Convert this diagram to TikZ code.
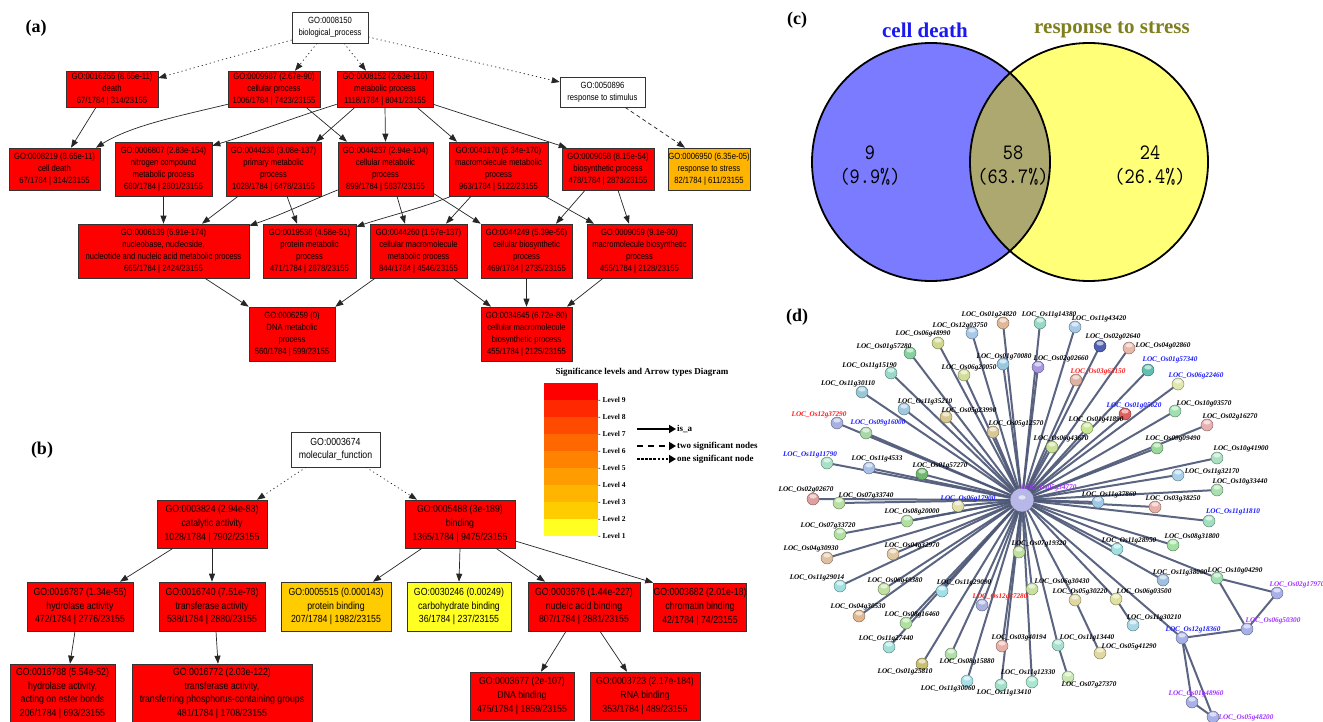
\documentclass[tikz,border=0pt]{standalone}
\usepackage{fontspec}
\setmainfont{Liberation Serif}
\newfontfamily\gofont[FakeStretch=0.85]{Liberation Sans}
\newfontfamily\vnumfont[FakeStretch=0.88]{lmmono10-regular.otf}
\usetikzlibrary{arrows.meta}
\pgfdeclarelayer{bg}
\pgfsetlayers{bg,main}
\definecolor{lv9}{HTML}{FF0000}
\definecolor{lv8}{HTML}{FF2800}
\definecolor{lv7}{HTML}{FF4A00}
\definecolor{lv6}{HTML}{FF6800}
\definecolor{lv5}{HTML}{FF8200}
\definecolor{lv4}{HTML}{FF9C00}
\definecolor{lv3}{HTML}{FFB400}
\definecolor{lv2}{HTML}{FFCC00}
\definecolor{lv1}{HTML}{FFFF22}
\definecolor{edgec}{HTML}{4E5878}
\definecolor{vblue}{HTML}{7B7BFF}
\definecolor{vyel}{HTML}{FFFF78}
\definecolor{volive}{HTML}{ADA86F}
\definecolor{lred}{HTML}{FF1A1A}
\definecolor{lblue}{HTML}{1A1AFF}
\definecolor{lpur}{HTML}{A030FF}
\definecolor{vtblue}{HTML}{1A1AF0}
\definecolor{vtolive}{HTML}{7F7F1F}
\newcommand\gobx[7]{\node[gobox,#2,minimum width={(#5-#3)*1pt},minimum height={(#6-#4)*1pt}] (#1) at ({(#3+#5)/2},{(#4+#6)/2}) {#7};}
\newcommand\gnd[8]{\definecolor{c#1}{HTML}{#4}\node[gball,fill=c#1,draw=c#1!55!black] (#1) at (#2,#3) {};\node[glab,text=#7] (#1l) at (#5,#6) {LOC\_Os#8};}
\tikzset{
  gobox/.style={draw=black!80, line width=0.6pt, font=\gofont\fontsize{9}{11.8}\selectfont, align=center, inner sep=0pt, text=black},
  gobb/.style={font=\gofont\fontsize{10.3}{13.7}\selectfont},
  isa/.style={-{Triangle[length=8pt,width=6pt]}, line width=0.7pt, black!85},
  two/.style={isa, dash pattern=on 4pt off 3pt},
  one/.style={isa, dash pattern=on 1.2pt off 3pt},
  plab/.style={font=\bfseries\fontsize{18}{20}\selectfont},
  lgt/.style={font=\bfseries\fontsize{9}{11}\selectfont},
  lvl/.style={font=\bfseries\fontsize{7.5}{9}\selectfont, anchor=west, inner sep=0pt},
  lgs/.style={font=\bfseries\fontsize{9}{11}\selectfont, anchor=west, inner sep=1pt},
  vtitle/.style={font=\bfseries\fontsize{21}{24}\selectfont},
  vnum/.style={font=\vnumfont\fontsize{22}{24}\selectfont, align=center},
  gball/.style={circle, minimum size=12pt, inner sep=0pt, line width=0.4pt,
    path picture={\fill[white,opacity=0.6] ([yshift=2.6pt]path picture bounding box.center) ellipse[x radius=3.6pt,y radius=2.2pt];}},
  glab/.style={font=\bfseries\itshape\fontsize{7.2}{8}\selectfont, inner sep=0pt},
  pedge/.style={edgec, line width=2pt, line cap=round, opacity=0.92},
}
\begin{document}
\begin{tikzpicture}[x=1pt,y=-1pt]
\useasboundingbox (0,0) rectangle (1323,722);
\begin{pgfonlayer}{bg}
\fill[white] (0,0) rectangle (1323,722);
\end{pgfonlayer}
\clip (0,0) rectangle (1323,722);
% ---------------- panel (a)
\node[plab] (pa) at (36,28) {(a)};
\gobx{r8150}{fill=white}{292}{12}{368}{43}{GO:0008150\\biological\_process}
\gobx{n16265}{fill=lv9}{66}{71}{158}{107}{GO:0016265 (8.65e-11)\\death\\67/1784 | 314/23155}
\gobx{n9987}{fill=lv9}{228}{71}{320}{107}{GO:0009987 (2.67e-90)\\cellular process\\1006/1784 | 7423/23155}
\gobx{n8152}{fill=lv9}{337}{71}{433}{107}{GO:0008152 (2.63e-116)\\metabolic process\\1118/1784 | 8041/23155}
\gobx{n50896}{fill=white}{560}{77}{645}{107}{GO:0050896\\response to stimulus}
\gobx{n8219}{fill=lv9}{9}{148}{100}{190}{GO:0008219 (8.65e-11)\\cell death\\67/1784 | 314/23155}
\gobx{n6807}{fill=lv9}{115}{142}{212}{196}{GO:0006807 (2.83e-154)\\nitrogen compound\\metabolic process\\680/1784 | 2801/23155}
\gobx{n44238}{fill=lv9}{226}{142}{321}{196}{GO:0044238 (3.08e-137)\\primary metabolic\\process\\1028/1784 | 6478/23155}
\gobx{n44237}{fill=lv9}{338}{142}{433}{196}{GO:0044237 (2.94e-104)\\cellular metabolic\\process\\899/1784 | 5837/23155}
\gobx{n43170}{fill=lv9}{449}{142}{548}{196}{GO:0043170 (5.34e-170)\\macromolecule metabolic\\process\\963/1784 | 5122/23155}
\gobx{n9058}{fill=lv9}{562}{148}{654}{190}{GO:0009058 (8.15e-54)\\biosynthetic process\\478/1784 | 2873/23155}
\gobx{n6950}{fill=lv3}{668}{148}{750}{190}{GO:0006950 (6.35e-05)\\response to stress\\82/1784 | 611/23155}
\gobx{n6139}{fill=lv9}{78}{224}{249}{278}{GO:0006139 (6.91e-174)\\nucleobase, nucleoside,\\nucleotide and nucleic acid metabolic process\\665/1784 | 2424/23155}
\gobx{n19538}{fill=lv9}{263}{224}{356}{278}{GO:0019538 (4.58e-51)\\protein metabolic\\process\\471/1784 | 2878/23155}
\gobx{n44260}{fill=lv9}{370}{224}{467}{278}{GO:0044260 (1.57e-137)\\cellular macromolecule\\metabolic process\\844/1784 | 4546/23155}
\gobx{n44249}{fill=lv9}{481}{224}{572}{278}{GO:0044249 (5.39e-56)\\cellular biosynthetic\\process\\469/1784 | 2735/23155}
\gobx{n9059}{fill=lv9}{587}{224}{692}{278}{GO:0009059 (9.1e-80)\\macromolecule biosynthetic\\process\\455/1784 | 2128/23155}
\gobx{n6259}{fill=lv9}{249}{307}{335}{361}{GO:0006259 (0)\\DNA metabolic\\process\\560/1784 | 599/23155}
\gobx{n34645}{fill=lv9}{481}{307}{572}{361}{GO:0034645 (6.72e-80)\\cellular macromolecule\\biosynthetic process\\455/1784 | 2125/23155}
\draw[one] ([yshift=-12.5pt]r8150.west) -- ([yshift=11pt]n16265.east);
\draw[one] ([xshift=-13pt]r8150.south) -- ([xshift=21pt]n9987.north);
\draw[one] ([xshift=14pt]r8150.south) -- ([xshift=-19pt]n8152.north);
\draw[one] ([yshift=-9.5pt]r8150.east) -- ([yshift=10pt]n50896.west);
\draw[two] ([xshift=22.5pt]n50896.south) -- ([xshift=-24pt]n6950.north);
\draw[isa] ([xshift=-16pt]n16265.south) -- ([xshift=16.5pt]n8219.north);
\draw[isa] ([yshift=3pt]n9987.south west) .. controls +(-50,12) and +(35,-22) .. ([xshift=41.5pt]n8219.north);
\draw[isa] ([xshift=32pt]n9987.south) -- ([xshift=-38.5pt]n44237.north);
\draw[isa] ([yshift=3pt]n8152.south west) .. controls +(-45,14) and +(40,-12) .. ([yshift=-4pt]n6807.north east);
\draw[isa] ([xshift=-30pt]n8152.south) -- ([xshift=42.5pt]n44238.north);
\draw[isa] (n8152.south) -- (n44237.north);
\draw[isa] ([xshift=32pt]n8152.south) -- ([xshift=-41.5pt]n43170.north);
\draw[isa] ([yshift=3pt]n8152.south east) -- ([xshift=5pt]n9058.north west);
\draw[isa] (n6807.south) -- (n6139.north);
\draw[isa] ([xshift=-35.5pt]n44238.south) -- ([xshift=38.5pt]n6139.north);
\draw[isa] ([xshift=13.5pt]n44238.south) -- ([xshift=-12.5pt]n19538.north);
\draw[isa] ([yshift=-21pt]n44237.west) .. controls +(-35,14) and +(35,-12) .. ([yshift=-2pt]n6139.north east);
\draw[isa] ([xshift=11.5pt]n44237.south) -- ([xshift=-13.5pt]n44260.north);
\draw[isa] ([yshift=3pt]n44237.south east) -- (n44249.north west);
\draw[isa] ([xshift=-47.5pt]n43170.south) .. controls +(-30,12) and +(30,-10) .. ([yshift=-3pt]n19538.north east);
\draw[isa] ([xshift=-27.5pt]n43170.south) -- ([xshift=27.5pt]n44260.north);
\draw[isa] ([xshift=46.5pt]n43170.south) -- ([xshift=-45.5pt]n9059.north);
\draw[isa] ([xshift=-23pt]n9058.south) -- ([xshift=29.5pt]n44249.north);
\draw[isa] ([xshift=10pt]n9058.south) -- ([xshift=-10.5pt]n9059.north);
\draw[isa] ([xshift=41.5pt]n6139.south) -- (n6259.north west);
\draw[isa] ([xshift=-43.5pt]n44260.south) -- (n6259.north east);
\draw[isa] ([xshift=34.5pt]n44260.south) -- ([xshift=-35.5pt]n34645.north);
\draw[isa] (n44249.south) -- (n34645.north);
\draw[isa] ([xshift=-36.5pt]n9059.south) -- ([xshift=40.5pt]n34645.north);
% ---------------- legend
\node[lgt] (lgtitle) at (642,372) {Significance levels and Arrow types Diagram};
\foreach \i/\c in {9/lv9,8/lv8,7/lv7,6/lv6,5/lv5,4/lv4,3/lv3,2/lv2,1/lv1}{
  \fill[\c] (544,{383+(9-\i)*17}) rectangle (598,{400.3+(9-\i)*17});
  \node[lvl] (lvl\i) at (598,{400+(9-\i)*17}) {- Level \i};
}
\coordinate (ia) at (637,429); \coordinate (ib) at (676,429);
\coordinate (ta) at (637,446); \coordinate (tb) at (676,446);
\coordinate (oa) at (637,459); \coordinate (ob) at (676,459);
\draw[line width=2.6pt,-{Triangle[length=7pt,width=8pt]}] (ia) -- (ib);
\draw[line width=2.6pt,dash pattern=on 6pt off 5pt,-{Triangle[length=7pt,width=8pt]}] (ta) -- (tb);
\draw[line width=2.6pt,dash pattern=on 2.5pt off 1.6pt,-{Triangle[length=7pt,width=8pt]}] (oa) -- (ob);
\node[lgs] (lia) at (ib) {is\_a};
\node[lgs] (lib) at (tb) {two significant nodes};
\node[lgs] (lic) at (ob) {one significant node};
% ---------------- panel (b)
\node[plab] (pb) at (42,450) {(b)};
\gobx{r3674}{fill=white,gobb}{291}{432}{380}{467}{GO:0003674\\molecular\_function}
\gobx{n3824}{fill=lv9,gobb}{157}{500}{267}{548}{GO:0003824 (2.94e-83)\\catalytic activity\\1028/1784 | 7902/23155}
\gobx{n5488}{fill=lv9,gobb}{405}{500}{515}{548}{GO:0005488 (3e-189)\\binding\\1365/1784 | 9475/23155}
\gobx{n16787}{fill=lv9,gobb}{27}{582}{133}{631}{GO:0016787 (1.34e-55)\\hydrolase activity\\472/1784 | 2776/23155}
\gobx{n16740}{fill=lv9,gobb}{159}{582}{265}{631}{GO:0016740 (7.51e-78)\\transferase activity\\538/1784 | 2880/23155}
\gobx{n5515}{fill=lv2,gobb}{281}{582}{391}{631}{GO:0005515 (0.000143)\\protein binding\\207/1784 | 1982/23155}
\gobx{n30246}{fill=lv1,gobb}{407}{582}{511}{631}{GO:0030246 (0.00249)\\carbohydrate binding\\36/1784 | 237/23155}
\gobx{n3676}{fill=lv9,gobb}{528}{582}{640}{631}{GO:0003676 (1.44e-227)\\nucleic acid binding\\807/1784 | 2881/23155}
\gobx{n3682}{fill=lv9,gobb}{655}{583}{745}{631}{GO:0003682 (2.01e-18)\\chromatin binding\\42/1784 | 74/23155}
\gobx{n16788}{fill=lv9,gobb}{10}{664}{115}{723}{GO:0016788 (5.54e-52)\\hydrolase activity,\\acting on ester bonds\\206/1784 | 693/23155}
\gobx{n16772}{fill=lv9,gobb}{132}{664}{312}{723}{GO:0016772 (2.03e-122)\\transferase activity,\\transferring phosphorus-containing groups\\481/1784 | 1708/23155}
\gobx{n3677}{fill=lv9,gobb}{470}{672}{574}{720}{GO:0003677 (2e-107)\\DNA binding\\475/1784 | 1859/23155}
\gobx{n3723}{fill=lv9,gobb}{590}{672}{700}{720}{GO:0003723 (2.17e-184)\\RNA binding\\353/1784 | 489/23155}
\draw[one] ([xshift=-29.5pt]r3674.south) -- ([xshift=45pt]n3824.north);
\draw[one] ([xshift=30.5pt]r3674.south) -- ([xshift=-43pt]n5488.north);
\draw[isa] ([xshift=-39pt]n3824.south) -- ([xshift=40pt]n16787.north);
\draw[isa] (n3824.south) -- (n16740.north);
\draw[isa] ([xshift=-38pt]n5488.south) -- ([xshift=37pt]n5515.north);
\draw[isa] (n5488.south) -- (n30246.north);
\draw[isa] ([xshift=36pt]n5488.south) -- ([xshift=-39pt]n3676.north);
\draw[isa] ([yshift=-17pt]n5488.east) -- (n3682.north west);
\draw[isa] ([xshift=-5pt]n16787.south) -- ([xshift=7.5pt]n16788.north);
\draw[isa] ([xshift=4pt]n16740.south) -- ([xshift=-4pt]n16772.north);
\draw[isa] ([xshift=-18pt]n3676.south) -- ([xshift=19pt]n3677.north);
\draw[isa] ([xshift=16pt]n3676.south) -- ([xshift=-18pt]n3723.north);
% ---------------- panel (c)
\node[plab] (pc) at (797,20) {(c)};
\coordinate (vl) at (931,162);
\coordinate (vr) at (1089,162);
\fill[vblue] (vl) circle[radius=119pt];
\fill[vyel] (vr) circle[radius=119pt];
\begin{scope}
\clip (vl) circle[radius=119pt];
\fill[volive] (vr) circle[radius=119pt];
\end{scope}
\draw[line width=1.8pt] (vl) circle[radius=119pt];
\draw[line width=1.8pt] (vr) circle[radius=119pt];
\node[vtitle,text=vtblue] (tcd) at (925,30) {cell death};
\node[vtitle,text=vtolive] (trs) at (1112,30) {response to stress};
\node[vnum] (v1) at (870,166) {9\\(9.9\%)};
\node[vnum] (v2) at (1013,166) {58\\(63.7\%)};
\node[vnum] (v3) at (1150,166) {24\\(26.4\%)};
% ---------------- panel (d)
\node[plab] (pd) at (797,317) {(d)};
\gnd{a1}{1003}{323}{E0B898}{989}{315}{black}{01g24820}
\gnd{a2}{1040}{323}{98D8C8}{1049}{315}{black}{11g14380}
\gnd{a3}{972}{333}{A8C8E8}{960}{326}{black}{12g03750}
\gnd{a4}{938}{343}{D0D890}{923}{334}{black}{06g48990}
\gnd{a5}{910}{353}{88D0A0}{884}{347}{black}{01g57280}
\gnd{a6}{891}{373}{98D8C8}{869.5}{366}{black}{11g15190}
\gnd{a7}{862}{392}{98C8D8}{848}{384}{black}{11g30110}
\gnd{a8}{1003}{364}{98C8E0}{1004}{357}{black}{01g70080}
\gnd{a9}{1038}{367}{A898E0}{1061}{359}{black}{02g02660}
\gnd{a10}{964}{375}{D0DC98}{969}{368}{black}{06g20050}
\gnd{a11}{904}{409}{A0C8E0}{925}{402}{black}{11g35210}
\gnd{a12}{946}{417}{D8C890}{969}{411}{black}{05g23990}
\gnd{a13}{837}{423}{A8B0E0}{819}{415}{lred}{12g37290}
\gnd{a14}{866}{433}{A8D8A8}{878}{423}{lblue}{09g16000}
\gnd{a15}{993}{432}{D8C898}{1016}{424}{black}{05g12570}
\gnd{a16}{1052}{447}{C8E098}{1061}{439}{black}{06g43670}
\gnd{a17}{827}{463}{A8E0C8}{810}{455}{lblue}{11g11790}
\gnd{a18}{869}{468}{A8C0E8}{877}{459}{black}{11g4533}
\gnd{a19}{922}{474}{70B870}{940}{466}{black}{01g57270}
\gnd{a20}{813}{499}{E0A0A0}{806}{490}{black}{02g02670}
\gnd{a21}{839}{503}{B8E0A0}{866}{496}{black}{07g33740}
\gnd{a22}{958}{506}{E0E0A8}{968}{499}{lblue}{06g17900}
\gnd{a23}{907}{521}{B0E0A0}{912}{512}{black}{08g20000}
\gnd{a24}{840}{534}{B0E0A0}{828}{526}{black}{07g33720}
\gnd{a25}{827}{558}{E0C0A0}{811}{549}{black}{04g30930}
\gnd{a26}{893}{554}{E0C8A0}{912}{546}{black}{04g32970}
\gnd{a27}{1019}{552}{C0E0A0}{1039}{544}{black}{07g19320}
\gnd{a28}{840}{586}{A0E0E0}{817}{578}{black}{11g29014}
\gnd{a29}{884}{589}{C0E0A0}{895}{581}{black}{06g49380}
\gnd{a30}{942}{591}{A0E0E8}{964}{583}{black}{11g29090}
\gnd{a31}{1032}{589}{C8E0A0}{1062}{582}{black}{06g30430}
\gnd{a32}{982}{605}{A8B0E0}{1000}{597}{lred}{12g37280}
\gnd{a33}{859}{616}{E0B890}{858}{607}{black}{04g30530}
\gnd{a34}{906}{623}{B0E0A0}{912}{615}{black}{08g16460}
\gnd{a35}{1002}{646}{E8B0A8}{1019}{638}{black}{03g40194}
\gnd{a36}{889}{647}{A0E0D8}{886}{639}{black}{11g27440}
\gnd{a37}{951}{654}{B0E0A8}{967}{662}{black}{08g15880}
\gnd{a38}{922}{664}{C8C070}{905}{672}{black}{01g25810}
\gnd{a39}{967}{681}{A8E0E8}{948}{689}{black}{11g30060}
\gnd{a40}{1001}{685}{A0E0C8}{1004}{693}{black}{11g13410}
\gnd{a41}{1032}{682}{A8E8D0}{1028}{673}{black}{11g12330}
\gnd{a42}{1058}{645}{A8E0D0}{1087}{638}{black}{11g13440}
\gnd{a43}{1068}{677}{C8E8B0}{1089}{685}{black}{07g27370}
\gnd{a44}{1075}{600}{E0D8A0}{1080}{592}{black}{05g30220}
\gnd{a45}{1116}{599}{E0E0A0}{1144}{592}{black}{06g03500}
\gnd{a46}{1100}{653}{E0D8A0}{1129}{647}{black}{05g41290}
\gnd{a47}{1133}{625}{A8D8E8}{1154}{618}{black}{11g30210}
\gnd{a48}{1163}{580}{A0C0E0}{1180}{573}{black}{11g38000}
\gnd{a49}{1217}{578}{A0E0B0}{1235}{571}{black}{10g04290}
\gnd{a50}{1277}{593}{A8B0E8}{1297}{585}{lpur}{02g17970}
\gnd{a51}{1247}{629}{A8B0E8}{1273}{621}{lpur}{06g50300}
\gnd{a52}{1182}{638}{A8B0E8}{1193}{630}{lblue}{12g18360}
\gnd{a53}{1192}{702}{A8B0E8}{1196}{694}{lpur}{01g48960}
\gnd{a54}{1213}{717}{A8B0E8}{1246}{718}{lpur}{05g48200}
\gnd{a55}{1117}{549}{A0E0E0}{1129}{541}{black}{11g28950}
\gnd{a56}{1173}{545}{A0E0A0}{1192}{537}{black}{08g31800}
\gnd{a57}{1209}{521}{A0E0C0}{1233}{512}{lblue}{11g11810}
\gnd{a58}{1098}{502}{A0C8E8}{1109}{495}{black}{11g37860}
\gnd{a59}{1155}{507}{E8B0A8}{1173}{499}{black}{03g38250}
\gnd{a60}{1217}{490}{A8E0B0}{1240}{482}{black}{10g33440}
\gnd{a61}{1178}{475}{A8D0E8}{1212}{472}{black}{11g32170}
\gnd{a62}{1217}{458}{A8E0C0}{1241}{449}{black}{10g41900}
\gnd{a63}{1157}{448}{98D898}{1173}{439}{black}{09g09490}
\gnd{a64}{1207}{425}{E8B0B0}{1230}{417}{black}{02g16270}
\gnd{a65}{1175}{411}{A0E0B0}{1204}{404}{black}{10g03570}
\gnd{a66}{1125}{414}{E06060}{1134}{406}{lblue}{01g05620}
\gnd{a67}{1087}{428}{C8E890}{1096}{420}{black}{01g41890}
\gnd{a68}{1178}{384}{E0E8B0}{1196}{376}{lblue}{06g22460}
\gnd{a69}{1148}{370}{60C0B0}{1170}{360}{lblue}{01g57340}
\gnd{a70}{1129}{348}{E8B8A8}{1163}{346}{black}{04g02860}
\gnd{a71}{1100}{346}{5060B0}{1113}{337}{black}{02g02640}
\gnd{a72}{1075}{327}{A8C8E8}{1099}{319}{black}{11g43420}
\gnd{a73}{1076}{380}{E0B0A0}{1098}{372}{lred}{03g63150}
\definecolor{cc0}{HTML}{B8B8E8}
\node[gball,fill=cc0,draw=cc0!50!black,minimum size=24pt] (c0) at (1022,500) {};
\node[glab,text=lpur] (c0l) at (1049,488) {LOC\_Os05g34770};
\begin{pgfonlayer}{bg}
\foreach \i in {1,...,42,44,45,48,49,52,55,56,57,58,59,60,61,62,63,64,65,66,67,68,69,70,71,72,73}{
  \draw[pedge] (c0) -- (a\i);
}
\draw[pedge] (a42) -- (a43);
\draw[pedge] (a44) -- (a46);
\draw[pedge] (a45) -- (a47);
\draw[pedge] (a49) -- (a50);
\draw[pedge] (a49) -- (a51);
\draw[pedge] (a50) -- (a51);
\draw[pedge] (a51) -- (a52);
\draw[pedge] (a52) -- (a53);
\draw[pedge] (a52) -- (a54);
\draw[pedge] (a53) -- (a54);
\end{pgfonlayer}
\end{tikzpicture}
\end{document}
